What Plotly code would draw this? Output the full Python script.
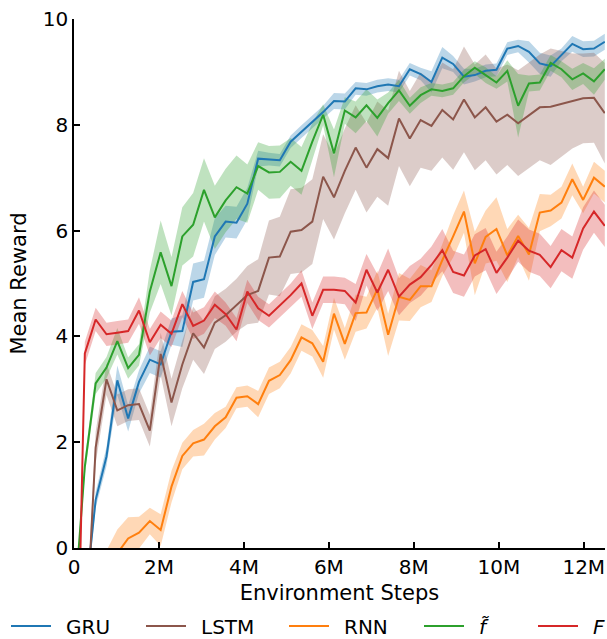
import plotly.graph_objects as go

# Environment steps (millions)
steps = [0, 0.255, 0.51, 0.765, 1.02, 1.275, 1.53, 1.785, 2.04, 2.295,
         2.55, 2.805, 3.06, 3.315, 3.57, 3.825, 4.08, 4.335, 4.59, 4.845,
         5.1, 5.355, 5.61, 5.865, 6.12, 6.375, 6.63, 6.885, 7.14, 7.395,
         7.65, 7.905, 8.16, 8.415, 8.67, 8.925, 9.18, 9.435, 9.69, 9.945,
         10.2, 10.455, 10.71, 10.965, 11.22, 11.475, 11.73, 11.985, 12.24, 12.495]

gru = [-3.0, -1.0, 0.91, 1.73, 3.17, 2.45, 3.14, 3.56, 3.47, 4.09,
       4.10, 5.03, 5.08, 5.89, 6.17, 6.15, 6.51, 7.36, 7.35, 7.33,
       7.68, 7.87, 8.06, 8.24, 8.45, 8.44, 8.69, 8.67, 8.73, 8.76,
       8.73, 9.05, 8.96, 8.81, 9.27, 9.15, 8.91, 8.94, 9.02, 9.04,
       9.44, 9.49, 9.38, 9.16, 9.11, 9.32, 9.53, 9.43, 9.44, 9.57]
gru_sd = [0.15, 0.15, 0.15, 0.18, 0.28, 0.25, 0.22, 0.25, 0.25, 0.25,
          0.30, 0.35, 0.35, 0.35, 0.30, 0.30, 0.30, 0.15, 0.12, 0.12,
          0.12, 0.12, 0.12, 0.12, 0.15, 0.15, 0.12, 0.12, 0.12, 0.12,
          0.12, 0.12, 0.12, 0.20, 0.20, 0.15, 0.15, 0.12, 0.12, 0.12,
          0.12, 0.12, 0.20, 0.20, 0.20, 0.12, 0.15, 0.15, 0.15, 0.15]

lstm = [-4.0, -2.1, 1.90, 3.19, 2.60, 2.70, 2.72, 2.22, 3.67, 2.75,
        3.47, 4.06, 3.79, 4.26, 4.40, 4.59, 4.78, 4.86, 5.49, 5.51,
        5.98, 6.01, 6.17, 7.02, 6.63, 7.13, 7.57, 7.19, 7.54, 7.37,
        8.12, 7.74, 8.09, 7.98, 8.28, 8.10, 8.48, 8.14, 8.33, 8.06,
        8.19, 8.03, 8.18, 8.33, 8.34, 8.39, 8.45, 8.50, 8.51, 8.22]
lstm_sd = [0.3, 0.3, 0.3, 0.3, 0.3, 0.3, 0.3, 0.3, 0.4, 0.45,
           0.45, 0.5, 0.5, 0.5, 0.5, 0.5, 0.55, 0.6, 0.7, 0.75,
           0.8, 0.8, 0.8, 0.8, 0.8, 0.8, 0.8, 0.85, 0.9, 0.9,
           0.9, 0.9, 0.9, 0.85, 0.9, 0.95, 1.0, 1.0, 1.0, 1.0,
           0.95, 1.0, 1.0, 1.0, 1.1, 1.0, 0.9, 0.85, 0.85, 0.95]

rnn = [-1.5, -1.2, -0.9, -0.5, -0.10, 0.18, 0.29, 0.51, 0.34, 1.16,
       1.74, 1.98, 2.05, 2.30, 2.47, 2.84, 2.87, 2.72, 3.16, 3.27,
       3.55, 3.98, 3.87, 3.52, 4.43, 3.86, 4.44, 4.45, 4.89, 4.03,
       4.75, 4.69, 4.95, 4.95, 5.44, 5.89, 6.36, 5.38, 5.88, 6.03,
       5.53, 5.90, 5.55, 6.34, 6.38, 6.53, 6.97, 6.58, 7.00, 6.83]
rnn_sd = [0.45, 0.45, 0.45, 0.45, 0.45, 0.40, 0.30, 0.25, 0.30, 0.30,
          0.25, 0.25, 0.30, 0.25, 0.20, 0.20, 0.20, 0.25, 0.25, 0.25,
          0.25, 0.25, 0.25, 0.30, 0.30, 0.30, 0.35, 0.30, 0.35, 0.40,
          0.45, 0.40, 0.40, 0.30, 0.30, 0.40, 0.40, 0.60, 0.50, 0.60,
          0.50, 0.40, 0.50, 0.35, 0.30, 0.30, 0.30, 0.25, 0.30, 0.30]

f_tilde = [-1.2, 1.54, 3.11, 3.41, 3.91, 3.40, 3.65, 4.85, 5.59, 4.95,
           5.89, 6.11, 6.77, 6.25, 6.57, 6.82, 6.70, 7.22, 7.10, 7.11,
           7.30, 7.13, 7.68, 8.19, 7.46, 8.27, 8.14, 8.37, 8.13, 8.41,
           8.65, 8.36, 8.56, 8.67, 8.64, 8.69, 8.92, 9.08, 8.94, 8.80,
           9.02, 8.36, 8.78, 8.80, 9.17, 9.05, 8.86, 8.97, 8.82, 9.05]
f_tilde_sd = [0.10, 0.15, 0.20, 0.20, 0.25, 0.20, 0.20, 0.40, 0.60, 0.55,
              0.55, 0.60, 0.60, 0.60, 0.60, 0.60, 0.55, 0.45, 0.50, 0.50,
              0.45, 0.45, 0.35, 0.20, 0.45, 0.25, 0.30, 0.30, 0.35, 0.20,
              0.20, 0.15, 0.15, 0.12, 0.12, 0.12, 0.12, 0.12, 0.15, 0.12,
              0.20, 0.60, 0.15, 0.15, 0.15, 0.15, 0.20, 0.20, 0.25, 0.20]

f_big = [-5.5, 3.68, 4.32, 4.04, 4.07, 4.10, 4.49, 3.89, 4.22, 4.05,
         4.61, 4.20, 4.30, 4.60, 4.42, 4.13, 4.85, 4.53, 4.39, 4.58,
         4.78, 5.00, 4.39, 4.88, 4.88, 4.86, 4.64, 5.26, 4.83, 5.26,
         4.75, 4.98, 5.12, 5.35, 5.63, 5.22, 5.15, 5.53, 5.65, 5.20,
         5.49, 5.81, 5.62, 5.54, 5.31, 5.63, 5.49, 6.04, 6.36, 6.09]
f_big_sd = [0.22, 0.22, 0.22, 0.22, 0.22, 0.22, 0.25, 0.25, 0.25, 0.25,
            0.25, 0.25, 0.25, 0.25, 0.22, 0.22, 0.22, 0.22, 0.22, 0.22,
            0.22, 0.25, 0.25, 0.25, 0.25, 0.25, 0.35, 0.30, 0.35, 0.40,
            0.35, 0.35, 0.35, 0.35, 0.40, 0.40, 0.40, 0.40, 0.40, 0.40,
            0.40, 0.40, 0.40, 0.40, 0.40, 0.40, 0.40, 0.40, 0.40, 0.40]

series = [
    ("GRU", gru, gru_sd, (31, 119, 180)),
    ("LSTM", lstm, lstm_sd, (140, 86, 75)),
    ("RNN", rnn, rnn_sd, (255, 127, 14)),
    ("<i>f\u0303</i>", f_tilde, f_tilde_sd, (44, 160, 44)),
    ("<i>F</i>", f_big, f_big_sd, (214, 39, 40)),
]
# left edge (px) of each legend entry
legend_px = [6, 141, 284, 419, 533]

x_ticks = [0, 2, 4, 6, 8, 10, 12]
x_tick_text = ["0", "2M", "4M", "6M", "8M", "10M", "12M"]
y_ticks = [0, 2, 4, 6, 8, 10]

FONT = "DejaVu Sans"
W, H = 607, 639
fig = go.Figure()

for name, mean, sd, (r, g, b) in series:
    upper = [m + s for m, s in zip(mean, sd)]
    lower = [m - s for m, s in zip(mean, sd)]
    fig.add_trace(go.Scatter(
        x=steps + steps[::-1], y=upper + lower[::-1],
        fill="toself", fillcolor=f"rgba({r},{g},{b},0.3)",
        line=dict(width=0), mode="lines", hoverinfo="skip", showlegend=False))

legend_layout = {}
for i, (name, mean, sd, (r, g, b)) in enumerate(series):
    lname = "legend" if i == 0 else f"legend{i + 1}"
    fig.add_trace(go.Scatter(
        x=steps, y=mean, mode="lines", name="\u2002" + name, legend=lname,
        line=dict(color=f"rgb({r},{g},{b})", width=2)))
    legend_layout[lname] = dict(
        orientation="h", xref="container", yref="container",
        x=legend_px[i] / W, xanchor="left", y=13 / H, yanchor="middle",
        font=dict(family=FONT, size=20, color="black"),
        itemwidth=40, bgcolor="rgba(0,0,0,0)")

fig.update_layout(
    width=W, height=H,
    margin=dict(l=74, r=2, t=19, b=91),
    plot_bgcolor="white", paper_bgcolor="white",
    font=dict(family=FONT, size=20, color="black"),
    showlegend=True,
    **legend_layout,
)
fig.update_xaxes(
    range=[0, 12.5], tickvals=x_ticks, ticktext=x_tick_text,
    showline=True, linecolor="black", linewidth=1.5,
    ticks="inside", ticklen=6, tickwidth=1.5, tickcolor="black",
    showgrid=False, zeroline=False, automargin=False,
    tickfont=dict(family=FONT, size=20, color="black"),
    title=dict(text="Environment Steps", font=dict(family=FONT, size=21), standoff=8),
)
fig.update_yaxes(
    range=[0, 10], tickvals=y_ticks,
    showline=True, linecolor="black", linewidth=1.5,
    ticks="inside", ticklen=6, tickwidth=1.5, tickcolor="black",
    showgrid=False, zeroline=False, automargin=False,
    tickfont=dict(family=FONT, size=20, color="black"),
    title=dict(text="Mean Reward", font=dict(family=FONT, size=21), standoff=10),
)

fig.write_html(
    "out.html",
    config={"displayModeBar": False},
    post_script="document.body.style.margin='0';document.body.style.padding='0';"
                "document.body.style.overflow='hidden';",
)
